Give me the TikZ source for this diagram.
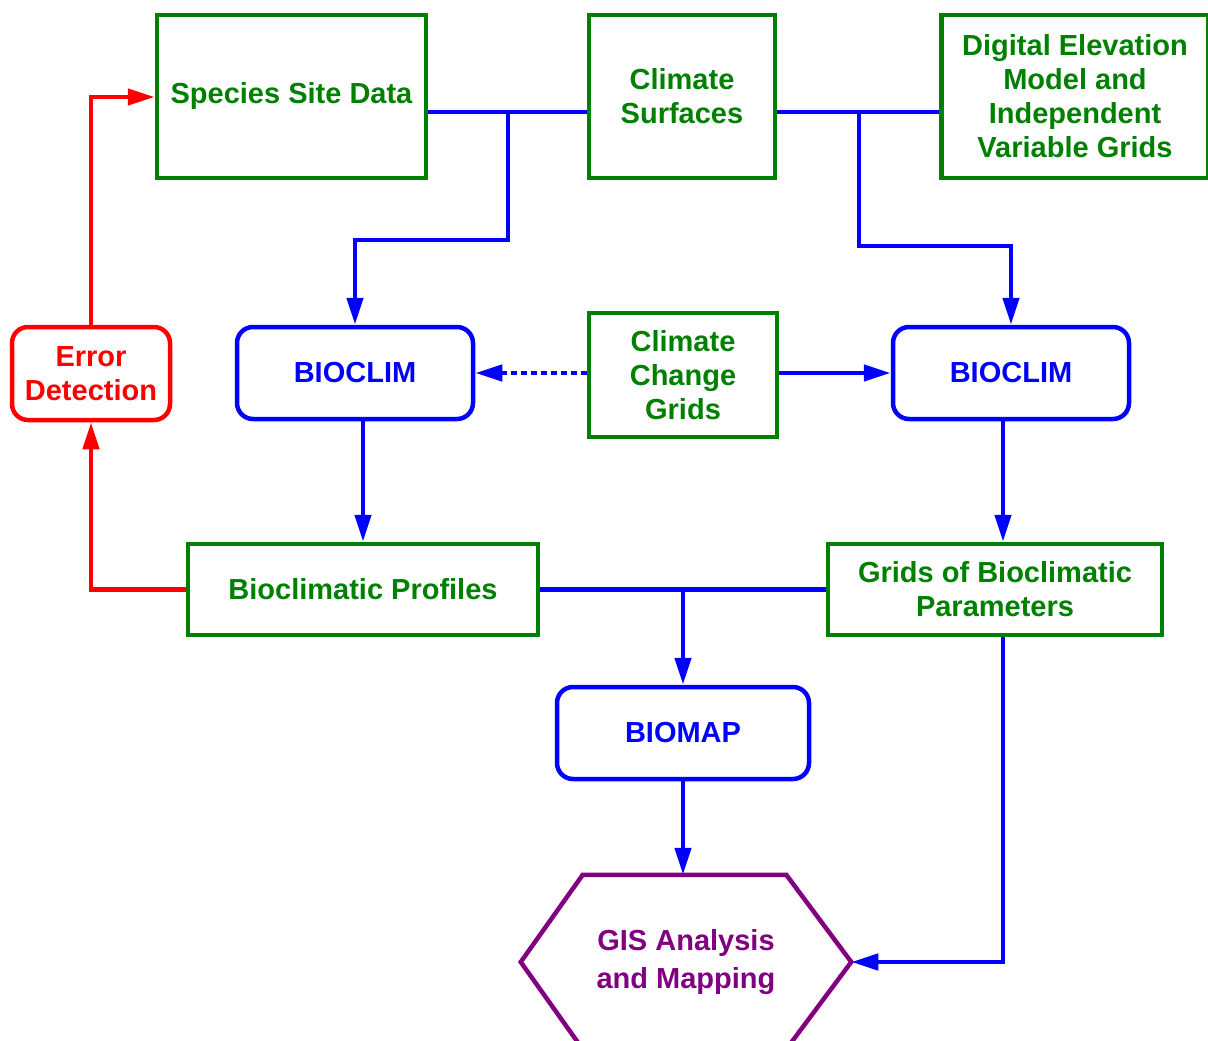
\documentclass[tikz,border=0pt]{standalone}
\usepackage{fontspec}
\setmainfont{Liberation Sans}
\usetikzlibrary{arrows.meta}
\definecolor{dgreen}{RGB}{0,128,0}
\definecolor{dpurple}{RGB}{128,0,128}

\begin{document}
\begin{tikzpicture}[x=1pt,y=-1pt,line width=4.5pt,
  >={Triangle[length=27pt,width=16pt]},
  font=\bfseries\fontsize{29}{34}\selectfont,
  databox/.style={draw=dgreen,text=dgreen,align=center,inner sep=0pt},
  progbox/.style={draw=blue,text=blue,rounded corners=16pt,align=center,inner sep=0pt},
  flow/.style={blue,->}]
  \useasboundingbox (0,0) rectangle (1208,1041);
  \clip (0,0) rectangle (1208,1041);
  \node[databox,minimum width=269pt,minimum height=163pt] (species) at (291.5,96.5) {Species Site Data};
  \node[databox,minimum width=186pt,minimum height=163pt] (surfaces) at (682,96.5) {Climate\\Surfaces};
  \node[databox,minimum width=267pt,minimum height=163pt] (dem) at (1075,96.5) {Digital Elevation\\Model and\\Independent\\Variable Grids};
  \node[draw=red,text=red,rounded corners=16pt,align=center,inner sep=0pt,minimum width=158pt,minimum height=93pt] (error) at (91,373.5) {Error\\Detection};
  \node[progbox,minimum width=236pt,minimum height=92pt] (bioclimL) at (355,373) {BIOCLIM};
  \node[databox,minimum width=188pt,minimum height=124pt] (change) at (683,375) {Climate\\Change\\Grids};
  \node[progbox,minimum width=236pt,minimum height=92pt] (bioclimR) at (1011,373) {BIOCLIM};
  \node[databox,minimum width=350pt,minimum height=91pt] (profiles) at (363,589.5) {Bioclimatic Profiles};
  \node[databox,minimum width=334pt,minimum height=91pt] (gridsbio) at (995,589.5) {Grids of Bioclimatic\\Parameters};
  \node[progbox,minimum width=252pt,minimum height=92pt] (biomap) at (683,733) {BIOMAP};
  \node[text=dpurple,align=center,inner sep=0pt,minimum width=326pt,minimum height=170pt] (gis) at (686,962) {GIS Analysis\\[4pt]and Mapping};
  \draw[dpurple] (gis.west) -- ([xshift=62pt]gis.north west) -- ([xshift=-65pt]gis.north east) -- (gis.east)
    -- ([xshift=-65pt]gis.south east) -- ([xshift=62pt]gis.south west) -- cycle;

  \coordinate (j1) at (508,112);
  \coordinate (b1) at (508,240);
  \coordinate (j2) at (859,112);
  \coordinate (b2) at (859,246);
  \coordinate (j3) at (683,589.5);
  \coordinate (b3) at (1003,962);
  \coordinate (r1) at (91,589.5);
  \coordinate (r2) at (91,97);

  \draw[blue] (species.east |- j1) -- (surfaces.west |- j1);
  \draw[flow] (j1) -- (b1) -| (bioclimL.north);
  \draw[blue] (surfaces.east |- j2) -- (dem.west |- j2);
  \draw[flow] (j2) -- (b2) -| (bioclimR.north);
  \draw[flow,dash pattern=on 6pt off 4pt] (change.west |- bioclimL.east) -- (bioclimL.east);
  \draw[flow] (change.east |- bioclimR.west) -- (bioclimR.west);
  \draw[flow] (bioclimL.south -| profiles.north) -- (profiles.north);
  \draw[flow] (bioclimR.south -| b3) -- (gridsbio.north -| b3);
  \draw[blue] (profiles.east) -- (gridsbio.west);
  \draw[flow] (j3) -- (biomap.north);
  \draw[flow] (biomap.south) -- (biomap.south |- gis.north);
  \draw[flow] (gridsbio.south -| b3) -- (b3) -- (gis.east);
  \draw[red,->] (profiles.west) -- (r1) -- (error.south);
  \draw[red,->] (error.north) -- (r2) -- (species.west |- r2);
\end{tikzpicture}
\end{document}
